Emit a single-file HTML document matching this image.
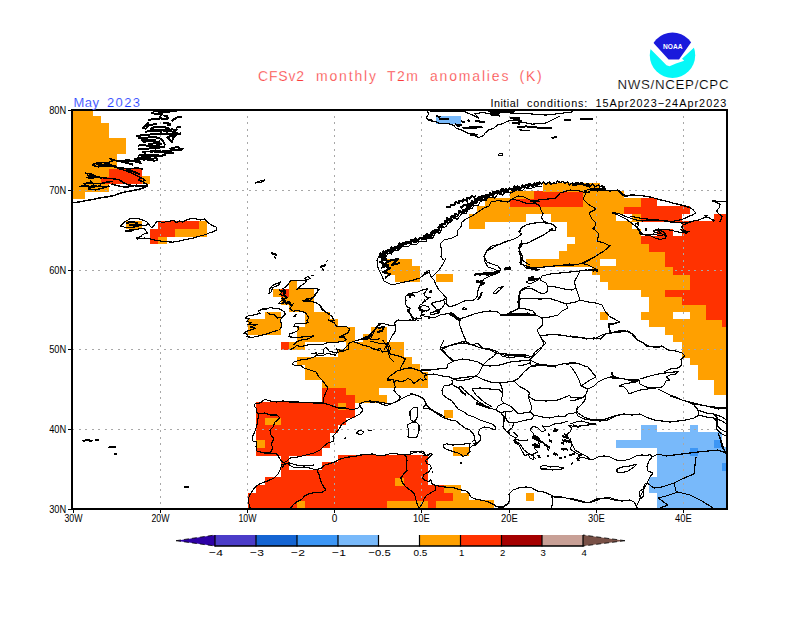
<!DOCTYPE html>
<html><head><meta charset="utf-8"><title>CFSv2 monthly T2m anomalies</title>
<style>
html,body{margin:0;padding:0;background:#fff}
body{width:800px;height:618px;overflow:hidden}
svg{display:block}
text{font-family:"Liberation Sans",sans-serif}
.thin{stroke:#fff;stroke-width:0.25px}
.thin2{stroke:#fff;stroke-width:0.15px}
.ax{font-size:11.2px;fill:#000}
.cb{font-size:9.8px;fill:#000}
</style></head><body>
<svg width="800" height="618" viewBox="0 0 800 618">
<rect width="800" height="618" fill="#fff"/>
<g shape-rendering="crispEdges">
<rect x="248" y="508" width="49" height="1" fill="#ff3200"/>
<rect x="297" y="508" width="8" height="1" fill="#ffa000"/>
<rect x="305" y="508" width="82" height="1" fill="#ff3200"/>
<rect x="387" y="508" width="41" height="1" fill="#ffa000"/>
<rect x="428" y="508" width="8" height="1" fill="#ff3200"/>
<rect x="436" y="508" width="58" height="1" fill="#ffa000"/>
<rect x="657" y="508" width="70" height="1" fill="#78b9fa"/>
<rect x="248" y="500" width="49" height="8" fill="#ff3200"/>
<rect x="297" y="500" width="8" height="8" fill="#ffa000"/>
<rect x="305" y="500" width="82" height="8" fill="#ff3200"/>
<rect x="387" y="500" width="41" height="8" fill="#ffa000"/>
<rect x="428" y="500" width="8" height="8" fill="#ff3200"/>
<rect x="436" y="500" width="58" height="8" fill="#ffa000"/>
<rect x="657" y="500" width="70" height="8" fill="#78b9fa"/>
<rect x="248" y="493" width="205" height="8" fill="#ff3200"/>
<rect x="453" y="493" width="16" height="8" fill="#ffa000"/>
<rect x="526" y="493" width="8" height="8" fill="#ffa000"/>
<rect x="657" y="493" width="70" height="8" fill="#78b9fa"/>
<rect x="256" y="485" width="188" height="8" fill="#ff3200"/>
<rect x="444" y="485" width="17" height="8" fill="#ffa000"/>
<rect x="649" y="485" width="78" height="8" fill="#78b9fa"/>
<rect x="265" y="477" width="130" height="9" fill="#ff3200"/>
<rect x="395" y="477" width="9" height="9" fill="#ffa000"/>
<rect x="404" y="477" width="24" height="9" fill="#ff3200"/>
<rect x="649" y="477" width="78" height="9" fill="#78b9fa"/>
<rect x="281" y="470" width="147" height="8" fill="#ff3200"/>
<rect x="657" y="470" width="70" height="8" fill="#78b9fa"/>
<rect x="281" y="462" width="8" height="9" fill="#ff3200"/>
<rect x="322" y="462" width="106" height="9" fill="#ff3200"/>
<rect x="657" y="462" width="65" height="9" fill="#78b9fa"/>
<rect x="722" y="462" width="5" height="9" fill="#3c96f5"/>
<rect x="281" y="455" width="8" height="8" fill="#ff3200"/>
<rect x="338" y="455" width="90" height="8" fill="#ff3200"/>
<rect x="657" y="455" width="70" height="8" fill="#78b9fa"/>
<rect x="256" y="447" width="66" height="9" fill="#ff3200"/>
<rect x="453" y="447" width="16" height="9" fill="#ffa000"/>
<rect x="657" y="447" width="33" height="9" fill="#78b9fa"/>
<rect x="690" y="447" width="8" height="9" fill="#3c96f5"/>
<rect x="698" y="447" width="29" height="9" fill="#78b9fa"/>
<rect x="256" y="440" width="9" height="8" fill="#ffa000"/>
<rect x="265" y="440" width="65" height="8" fill="#ff3200"/>
<rect x="616" y="440" width="98" height="8" fill="#78b9fa"/>
<rect x="714" y="440" width="8" height="8" fill="#3c96f5"/>
<rect x="256" y="432" width="74" height="8" fill="#ff3200"/>
<rect x="641" y="432" width="81" height="8" fill="#78b9fa"/>
<rect x="256" y="425" width="82" height="8" fill="#ff3200"/>
<rect x="641" y="425" width="16" height="8" fill="#78b9fa"/>
<rect x="690" y="425" width="8" height="8" fill="#78b9fa"/>
<rect x="256" y="417" width="9" height="8" fill="#ff3200"/>
<rect x="265" y="417" width="16" height="8" fill="#ffa000"/>
<rect x="281" y="417" width="65" height="8" fill="#ff3200"/>
<rect x="256" y="410" width="99" height="8" fill="#ff3200"/>
<rect x="444" y="410" width="9" height="8" fill="#ffa000"/>
<rect x="256" y="402" width="82" height="8" fill="#ff3200"/>
<rect x="338" y="402" width="8" height="8" fill="#ffa000"/>
<rect x="346" y="402" width="9" height="8" fill="#ff3200"/>
<rect x="322" y="395" width="33" height="8" fill="#ff3200"/>
<rect x="355" y="395" width="32" height="8" fill="#ffa000"/>
<rect x="322" y="387" width="24" height="8" fill="#ff3200"/>
<rect x="346" y="387" width="33" height="8" fill="#ffa000"/>
<rect x="714" y="387" width="13" height="8" fill="#ffa000"/>
<rect x="322" y="379" width="106" height="9" fill="#ffa000"/>
<rect x="714" y="379" width="13" height="9" fill="#ffa000"/>
<rect x="305" y="372" width="123" height="8" fill="#ffa000"/>
<rect x="698" y="372" width="29" height="8" fill="#ffa000"/>
<rect x="305" y="364" width="115" height="9" fill="#ffa000"/>
<rect x="698" y="364" width="29" height="9" fill="#ffa000"/>
<rect x="297" y="357" width="115" height="8" fill="#ffa000"/>
<rect x="690" y="357" width="37" height="8" fill="#ffa000"/>
<rect x="338" y="349" width="66" height="9" fill="#ffa000"/>
<rect x="682" y="349" width="45" height="9" fill="#ffa000"/>
<rect x="281" y="342" width="8" height="8" fill="#ff3200"/>
<rect x="289" y="342" width="16" height="8" fill="#ffa000"/>
<rect x="346" y="342" width="58" height="8" fill="#ffa000"/>
<rect x="682" y="342" width="45" height="8" fill="#ffa000"/>
<rect x="297" y="334" width="58" height="8" fill="#ffa000"/>
<rect x="363" y="334" width="24" height="8" fill="#ffa000"/>
<rect x="673" y="334" width="54" height="8" fill="#ffa000"/>
<rect x="248" y="327" width="33" height="8" fill="#ffa000"/>
<rect x="297" y="327" width="58" height="8" fill="#ffa000"/>
<rect x="371" y="327" width="16" height="8" fill="#ffa000"/>
<rect x="665" y="327" width="62" height="8" fill="#ffa000"/>
<rect x="248" y="319" width="33" height="8" fill="#ffa000"/>
<rect x="305" y="319" width="33" height="8" fill="#ffa000"/>
<rect x="649" y="319" width="73" height="8" fill="#ffa000"/>
<rect x="722" y="319" width="5" height="8" fill="#ff3200"/>
<rect x="265" y="312" width="16" height="8" fill="#ffa000"/>
<rect x="305" y="312" width="25" height="8" fill="#ffa000"/>
<rect x="600" y="312" width="8" height="8" fill="#ffa000"/>
<rect x="641" y="312" width="32" height="8" fill="#ffa000"/>
<rect x="690" y="312" width="16" height="8" fill="#ffa000"/>
<rect x="706" y="312" width="21" height="8" fill="#ff3200"/>
<rect x="289" y="304" width="25" height="8" fill="#ffa000"/>
<rect x="649" y="304" width="57" height="8" fill="#ffa000"/>
<rect x="706" y="304" width="21" height="8" fill="#ff3200"/>
<rect x="281" y="296" width="33" height="9" fill="#ffa000"/>
<rect x="649" y="296" width="33" height="9" fill="#ffa000"/>
<rect x="682" y="296" width="45" height="9" fill="#ff3200"/>
<rect x="273" y="289" width="8" height="8" fill="#ffa000"/>
<rect x="281" y="289" width="8" height="8" fill="#ff3200"/>
<rect x="289" y="289" width="25" height="8" fill="#ffa000"/>
<rect x="641" y="289" width="24" height="8" fill="#ffa000"/>
<rect x="665" y="289" width="62" height="8" fill="#ff3200"/>
<rect x="289" y="281" width="8" height="9" fill="#ffa000"/>
<rect x="608" y="281" width="82" height="9" fill="#ffa000"/>
<rect x="690" y="281" width="37" height="9" fill="#ff3200"/>
<rect x="395" y="274" width="25" height="8" fill="#ffa000"/>
<rect x="436" y="274" width="17" height="8" fill="#ffa000"/>
<rect x="600" y="274" width="90" height="8" fill="#ffa000"/>
<rect x="690" y="274" width="37" height="8" fill="#ff3200"/>
<rect x="387" y="266" width="33" height="9" fill="#ffa000"/>
<rect x="592" y="266" width="81" height="9" fill="#ffa000"/>
<rect x="673" y="266" width="54" height="9" fill="#ff3200"/>
<rect x="387" y="259" width="25" height="8" fill="#ffa000"/>
<rect x="526" y="259" width="74" height="8" fill="#ffa000"/>
<rect x="616" y="259" width="49" height="8" fill="#ffa000"/>
<rect x="665" y="259" width="62" height="8" fill="#ff3200"/>
<rect x="559" y="251" width="106" height="8" fill="#ffa000"/>
<rect x="665" y="251" width="62" height="8" fill="#ff3200"/>
<rect x="567" y="244" width="82" height="8" fill="#ffa000"/>
<rect x="649" y="244" width="78" height="8" fill="#ff3200"/>
<rect x="150" y="236" width="8" height="8" fill="#ff3200"/>
<rect x="158" y="236" width="9" height="8" fill="#ffa000"/>
<rect x="575" y="236" width="66" height="8" fill="#ffa000"/>
<rect x="641" y="236" width="86" height="8" fill="#ff3200"/>
<rect x="150" y="229" width="25" height="8" fill="#ff3200"/>
<rect x="175" y="229" width="32" height="8" fill="#ffa000"/>
<rect x="567" y="229" width="74" height="8" fill="#ffa000"/>
<rect x="657" y="229" width="16" height="8" fill="#ff3200"/>
<rect x="682" y="229" width="45" height="8" fill="#ff3200"/>
<rect x="126" y="221" width="16" height="8" fill="#ffa000"/>
<rect x="158" y="221" width="41" height="8" fill="#ff3200"/>
<rect x="199" y="221" width="8" height="8" fill="#ffa000"/>
<rect x="469" y="221" width="16" height="8" fill="#ffa000"/>
<rect x="567" y="221" width="65" height="8" fill="#ffa000"/>
<rect x="682" y="221" width="45" height="8" fill="#ff3200"/>
<rect x="469" y="214" width="57" height="8" fill="#ffa000"/>
<rect x="551" y="214" width="65" height="8" fill="#ffa000"/>
<rect x="632" y="214" width="9" height="8" fill="#ffa000"/>
<rect x="641" y="214" width="41" height="8" fill="#ff3200"/>
<rect x="714" y="214" width="13" height="8" fill="#ff3200"/>
<rect x="477" y="206" width="147" height="8" fill="#ffa000"/>
<rect x="624" y="206" width="66" height="8" fill="#ff3200"/>
<rect x="485" y="198" width="25" height="9" fill="#ffa000"/>
<rect x="510" y="198" width="73" height="9" fill="#ff3200"/>
<rect x="583" y="198" width="58" height="9" fill="#ffa000"/>
<rect x="641" y="198" width="16" height="9" fill="#ff3200"/>
<rect x="72" y="191" width="13" height="8" fill="#ffa000"/>
<rect x="510" y="191" width="24" height="8" fill="#ffa000"/>
<rect x="534" y="191" width="49" height="8" fill="#ff3200"/>
<rect x="583" y="191" width="41" height="8" fill="#ffa000"/>
<rect x="72" y="183" width="37" height="9" fill="#ffa000"/>
<rect x="543" y="183" width="57" height="9" fill="#ffa000"/>
<rect x="72" y="176" width="29" height="8" fill="#ffa000"/>
<rect x="101" y="176" width="41" height="8" fill="#ff3200"/>
<rect x="142" y="176" width="8" height="8" fill="#ffa000"/>
<rect x="72" y="168" width="37" height="9" fill="#ffa000"/>
<rect x="109" y="168" width="33" height="9" fill="#ff3200"/>
<rect x="72" y="161" width="45" height="8" fill="#ffa000"/>
<rect x="72" y="153" width="45" height="8" fill="#ffa000"/>
<rect x="72" y="146" width="54" height="8" fill="#ffa000"/>
<rect x="72" y="138" width="54" height="8" fill="#ffa000"/>
<rect x="72" y="131" width="37" height="8" fill="#ffa000"/>
<rect x="72" y="123" width="37" height="8" fill="#ffa000"/>
<rect x="72" y="116" width="29" height="8" fill="#ffa000"/>
<rect x="436" y="116" width="25" height="8" fill="#78b9fa"/>
<rect x="72" y="110" width="21" height="6" fill="#ffa000"/>
</g>
<g stroke="#a8a8a8" stroke-width="1" stroke-dasharray="2 4.55" shape-rendering="crispEdges">
<line x1="160.5" y1="110" x2="160.5" y2="509" stroke-dashoffset="0.8"/>
<line x1="247.5" y1="110" x2="247.5" y2="509" stroke-dashoffset="0.8"/>
<line x1="334.5" y1="110" x2="334.5" y2="509" stroke-dashoffset="0.8"/>
<line x1="421.5" y1="110" x2="421.5" y2="509" stroke-dashoffset="0.8"/>
<line x1="509.5" y1="110" x2="509.5" y2="509" stroke-dashoffset="0.8"/>
<line x1="596.5" y1="110" x2="596.5" y2="509" stroke-dashoffset="0.8"/>
<line x1="683.5" y1="110" x2="683.5" y2="509" stroke-dashoffset="0.8"/>
<line x1="72" y1="429.5" x2="727" y2="429.5"/>
<line x1="72" y1="349.5" x2="727" y2="349.5"/>
<line x1="72" y1="270.5" x2="727" y2="270.5"/>
<line x1="72" y1="190.5" x2="727" y2="190.5"/>
</g>
<clipPath id="pc"><rect x="72" y="110" width="655" height="399"/></clipPath>
<g clip-path="url(#pc)" fill="none" stroke="#000" stroke-width="1.15" stroke-linejoin="round" shape-rendering="crispEdges">
<polyline stroke-width="2" points="153,111.3 163.5,111.7 177.5,111.3"/>
<polyline stroke-width="2" points="163.5,111.9 160.9,115 160,117.6 163.5,119.4 167.9,118.5 167,116.3 163.5,115.4"/>
<polyline stroke-width="2" points="147.8,120.2 153.9,118.9 160,118.9"/>
<polyline stroke-width="2" points="148.6,122 146.9,124.6 142.5,128.1 146,128.6 148.6,125.5 151.2,124.6 157.4,124.2"/>
<polyline stroke-width="2" points="171.4,121.1 176.6,117.6 181.9,116.8"/>
<polyline stroke-width="2" points="162.6,122.4 167.9,123.3 170.5,124.6 167,125.5"/>
<polyline stroke-width="2" points="150.4,129 154.8,126.8 164.4,126.8 168.8,128.6 163.5,129.9 153,129.9 150.4,129"/>
<polyline stroke-width="2" points="175.8,128.1 179.2,126.5 181.4,127.7"/>
<polyline stroke-width="2" points="163.5,131.2 174,131.6 176.6,132.9 174.9,134.2 168.8,134.2 166.1,132.9"/>
<polyline stroke-width="2" points="136.4,136.4 144.2,134.7 160,134.2 174,134.7"/>
<polyline stroke-width="2" points="138.1,138.2 146.9,137.8 151.2,136.9 159.1,137.8 162.6,140.4 165.2,145.6"/>
<polyline stroke-width="2" points="167,136.9 172.2,142.1 173.1,136 167,136.9"/>
<polyline stroke-width="2" points="142.5,141.7 151.2,141.2 159.1,141.7 160,140.4"/>
<polyline stroke-width="2" points="138.1,145.6 142.5,144.8 149.5,146.1 160,146.5 165.2,146.5"/>
<polyline stroke-width="2" points="138.1,148.7 145.1,149.1 153.9,147.8 160,148.2"/>
<polyline stroke-width="2" points="169.6,149.1 174,147.8 177.5,146.9 181,149.1 183.6,148.2"/>
<polyline stroke-width="2" points="170.5,150 175.8,150 181.9,150"/>
<polyline stroke-width="2" points="150.4,152.2 155.6,150.4 161.8,151.8 167,153.5 174,153.1"/>
<polyline stroke-width="2" points="138.1,155.7 144.2,154.4 153.9,155.2 161.8,155.7 166.1,154.4"/>
<polyline stroke-width="2" points="141.6,157.9 146,159.2 156.5,158.3 156.5,161.4"/>
<polyline stroke-width="2" points="125,159.6 130.2,160.5 140.8,161.6"/>
<polyline stroke-width="2" points="144.2,157 144.2,160.5"/>
<polyline stroke-width="2" points="151.2,113.2 158.2,114.1 161.8,113.2"/>
<polyline stroke-width="2" points="145.1,131.6 153.9,131.2 161.8,131.6"/>
<polyline stroke-width="2" points="140.8,139.5 147.8,139.9 155.6,139.5"/>
<polyline stroke-width="2" points="167,129.9 172.2,129.4 177.5,130.3"/>
<polyline stroke-width="2" points="147.8,143.9 154.8,143.4 161.8,144.3"/>
<polyline stroke-width="2" points="161.8,150.9 168.8,151.3 174,150"/>
<polyline stroke-width="2" points="174,136.9 177.5,134.2 181,133.4"/>
<polyline stroke-width="2" points="133.8,159.6 142.5,157 151.2,156.6"/>
<polyline stroke-width="1.5" points="72.2,202.9 79,202 85.8,200.6 92.5,199.5 100.4,197.8 108.2,196.7 113.9,195.6 119.5,193.3 126.2,191.8 133,190.5 140.9,188.8 147.6,186 146.5,183.8 143.1,182.6"/>
<polyline stroke-width="1.5" points="92.5,164.6 99.2,162.4 107.1,162.9 112.8,160.7 109.4,158.4 117.2,161.2 124,160.7 133,161.2 142,163.5"/>
<polyline stroke-width="1.5" points="92.5,165.2 98.1,166.9 107.1,165.8 115,166.9 120.6,168 128.5,168.6 137.5,168 143.1,169.1"/>
<polyline stroke-width="1.5" points="117.2,168 124,170.2 130.8,172.5 137.5,175.9 142,178.1 145.4,180.4 142,181.5 138.6,179.8 140.9,177.6"/>
<polyline stroke-width="1.5" points="84.6,173.1 91.4,174.2 98.1,177 104.9,178.1 112.8,178.7 119.5,179.8 122.9,182.6 128.5,184.9 137.5,186 146.5,186"/>
<polyline stroke-width="1.5" points="85.8,177.6 92.5,178.1 97,177"/>
<polyline stroke-width="1.5" points="90.2,180.4 93.6,183.8 91.4,182.6 90.2,180.4"/>
<polyline stroke-width="1.5" points="85.8,182.6 92.5,183.2 100.4,183.8 107.1,182.1 112.8,181.5"/>
<polyline stroke-width="1.5" points="79,186.6 85.8,185.4 92.5,187.1 99.2,186 106,187.1 109.4,186"/>
<polyline stroke-width="1.5" points="88,188.8 95.9,189.9 103.8,187.7"/>
<polyline stroke-width="1.5" points="111.6,183.8 118.4,186 125.1,187.1 130.8,186.6 137.5,184.9"/>
<polyline stroke-width="1.5" points="139.8,155.6 146.5,155.1 153.2,156.8 160,155.6"/>
<polyline stroke-width="1.5" points="137.5,159 146.5,159.6 155.5,161.2"/>
<polyline stroke-width="1.5" points="142,152.2 151,151.1 160,152.8"/>
<polyline stroke-width="2" points="95.9,164.1 103.8,164.6 110.5,163.5"/>
<polyline stroke-width="2" points="119.5,161.2 126.2,162.9 133,164.6"/>
<polyline stroke-width="2" points="86.9,175.3 94.8,176.4 102.6,178.1"/>
<polyline stroke-width="2" points="81.2,186 89.1,186.6 97,186.2"/>
<polyline stroke-width="2" points="98.1,165.2 107.1,164.4 117.2,166.9"/>
<polyline stroke-width="2" points="126.2,169.1 133,171.4 139.8,174.2"/>
<polyline stroke-width="2" points="83.5,183.8 91.4,182.8"/>
<polyline points="120.5,226.3 125.3,221.5 130.1,218.8 137,218.1 142.5,220.1 146.6,221.5 148.7,224.2 145.2,225.6 139.8,225.6 134.2,227 127.4,227.7 120.5,226.3"/>
<polyline stroke-width="2" points="126,222.9 132.9,221.8 138.4,223.6"/>
<polyline stroke-width="2" points="128.8,225.3 137,224.5 142.5,225.6"/>
<polyline points="125.3,230.4 132.9,229.8 142.5,228.4 144.6,229.1"/>
<polyline points="124.6,231.1 128.8,231.8 134.2,230.4"/>
<polyline points="148.7,224.2 151.4,227.7 154.2,225.6 156.2,222.2 159,221.2 163.1,222.9 165.9,221.5 170,221.2 174.1,220.1 176.2,222.9 179.6,220.8 182.4,222.2 186.5,220.1 189.9,218.8 194.1,218.1 197.5,219.4 200.9,220.1 204.4,218.8 206.4,220.8 208.5,222.9 211.2,224.9 216.1,227 216.8,229.8 213.3,231.8 209.9,232.5 205.8,234.6 200.2,235.9 193.4,238 186.5,239.4 179.6,241 172.8,242.1 165.9,241.8 160.4,241 154.9,240.1 149.4,238.7 144.6,238 137,239.1 136.3,237.7 140.4,236.9 142.5,234.6 145.9,233.2 148,233.9 144.6,229.1"/>
<polyline points="268.9,293.7 270,288.6 272.8,285.2 278.5,282.9 280.2,281.8 279.6,284.6 276.2,286.3 272.8,287.5 271.1,292 268.9,293.7"/>
<polyline points="288.7,283.5 290.4,280.7 296.6,280.9 303.4,280.7 306.8,281.2 304.6,283.5 300,286.3 296.6,289.7 298.9,288.4 304.6,288.4 312.5,288.4 319.3,289.2 318.2,290.9 315.3,294.3 312.5,297.7 308,299.4 303.4,301.6 308,301.1 312.5,301.6 317,303.3 320.4,305.6 322.7,309 325,311.8 330,314.1"/>
<polyline points="304.6,277.8 308,276.7 310.2,278.4 306.8,280.1 304.6,277.8"/>
<polyline points="311.4,276.1 313.6,275"/>
<polyline points="288.7,283.5 286.4,286.3 283,288.6 285.3,290.9 281.9,292 279.6,294.8 284.2,295.4 287.6,297.7 283,299.4 278.5,303.3 280.8,303.9 285.3,301.6 286.4,304.4 289.8,302.2 291,305.6 293.2,303.9 289.8,309 293.2,311.2 296.6,310.7 301.2,311.2 304.6,312.4 306.8,314.6 309.1,318 306.8,320.3 308,322.6 304.6,323.7 300,323.7 295.5,323.1 293.8,326.5 298.9,327.1 297.8,330.5 293.2,332.8 289.8,333.9 288.7,336.7 293.2,337.3 298.9,337.3 305.7,336.7 310.2,336.7 313.6,335.6"/>
<polyline stroke-width="2" points="279.1,290.3 285.3,292 283.6,294.8 286.4,297.1"/>
<polyline stroke-width="2" points="281.9,297.7 284.7,300.5 283,303.3"/>
<polyline stroke-width="2" points="285.3,303.9 288.7,301.6 289.8,305"/>
<polyline points="313.6,336.2 308,339 301.2,340.1 296.6,341.8 293.2,345"/>
<polyline points="248.5,315.8 245.1,318 249.1,318.6 246.8,321.4 251.3,322.6 247.9,324.8 253.6,324.8 257,324.3 250.2,327.1 255.9,328.2 249.1,330.5 245.7,331.6 244,333.3 247.9,334.5 246.8,336.7 251.3,337.3 253.6,337.1 260.4,335.6 267.2,333.9 272.8,331.6 278.5,330.5 280.8,328.2 281.9,324.8 280.2,320.3 282.5,316.9 285.3,314.1 284.2,311.8 279.6,309 274,308.4 270,307.3 267.2,309 262.7,309 258.1,311.2 260.4,313.5 257,314.1 252.5,315.2 248.5,315.8"/>
<polyline points="267.2,312.4 270.6,314.6 274,314.6 277.4,318 280.8,317.5 282.5,316.9"/>
<polyline points="293.2,316.9 296.1,314.6 295.5,316.3 293.2,316.9"/>
<polyline points="318.3,290 314.4,296.8 311.5,299.1 307,298.5 303.6,301.3 310.4,300.8 315.5,302.5 319.4,304.7 321.7,309.3 327.4,313.2 331.9,316.1 334.2,320.6 328.5,320 334.2,322.8 336.4,326.2 339.8,326.8 346.6,326.8 349.5,329.1 348.3,332.5 344.4,334.7 339.8,337 344.4,337.6 346.6,339.8 343.2,341.5 337.6,342.1 333,342.3 327.4,342.7 322.8,344.4 316.1,344.9 309.3,344.4 305.9,345.5 301.3,346.6 296.8,345.5 292.3,348.9 290,349.5"/>
<polyline stroke-width="2" points="302.5,301.3 309.3,300.2"/>
<polyline stroke-width="2" points="338.7,337.6 344.4,335.9"/>
<polyline points="311.5,354 316.1,352.9 318.3,355.7 324,355.1 327.4,353.4 335.3,355.1 337.6,351.2 336.4,348.9 339.8,350 343.2,351.2 348.9,348.9 348.9,343.2 353.4,341.5 359.1,339.8 364.8,338.1 369.3,335.3 372.7,331.9 376.1,327.4 379.5,322.8"/>
<polyline points="353.4,341.5 358,343.2 363.6,345.5 369.3,346.6 373.8,348.9 380,350.6"/>
<polyline points="359.1,339.8 363.6,339.8 369.3,338.7 375,339.8 380,338.7"/>
<polyline stroke-width="2.5" points="363.6,338.1 369.3,336.4 372.1,334.2"/>
<polyline points="294,362 292,364 296,366 300,365 304,368 310,370 316,372 319,377 322,380 325,384 328,388 326,392 324,397 323,403"/>
<polyline points="294,362 300,360 308,359 314,357 318,354 324,353 323,350 326,347 329,351 336,353 342,351 346,347 348,345"/>
<polyline points="323,403 314,403 306,402.6 298,402 290,402 283,401 276,402 270,401 265,399.4 260,403 255,404 254,406 257,409 256,412 259,414 258,419 257,425 255,431 252,438 253,441 257,442 256,446 257,451 264,453 270,453 277,454 280,459 283,463 287,461 290,458 298,457 306,455 314,453 320,450 324,446 328,443 334,441 333,436 336,433 339,429 342,424 348,420 354,417 360,414 363,410 360,406 359,404 364,402 370,401 378,402 384,403 390,404"/>
<polyline points="323,403 330,405 338,408 346,408 352,410 358,408 361,405"/>
<polyline points="259,414 265,413 270,415 277,415 280,418 275,422 273,427 270,430 271,435 274,439 271,444 273,448 270,453"/>
<polyline points="356,433 360,430 364,432 361,435 356,433"/>
<polyline stroke-width="2" points="344.4,438 346.4,438.6"/>
<polyline points="368,431 372,430"/>
<polyline points="282,468 284,465 288,463 290,463 296,465 304,466 314,465"/>
<polyline points="287.3,463.3 281.7,464.6 280.4,469 277.9,474.1 274.1,477.9 269,480.4 264,482.3 258.9,484.2 255.1,487.3 252.6,490.5 250.1,494.3 248.2,498.7 248.8,503.1 250.1,508.2"/>
<polyline points="287.3,463.3 289.9,465.2 293,467.1 299.3,467.8 305.6,467.1 310.7,468.4 315.7,469.7 320.8,468.4 324.6,465.2 328.3,464 334.7,462.1 339.7,458.9"/>
<polyline points="317,470.3 318.9,474.1 320.1,479.1 322,484.2 325.8,489.9 322,492.4 315.7,492.4 309.4,493.6 304.4,496.2 301.8,499.3 296.8,501.8 293,505 290.5,508.2"/>
<polyline points="330,463.3 333.8,462.1 337.6,460.2 342.6,458.3 348.9,457 355.2,456.4 360.3,455.1 366.6,454.5 372.9,453.9 378,455.8 383,455.8 389.3,453.9 394.4,453.3 399.4,454.5 405.7,455.1 410.8,453.9 415.8,452 422.1,451.4 424.7,452.6 424,455.8 428.4,455.1 430,453.9"/>
<polyline points="405.7,455.1 407,460.2 406.4,465.2 407,470.3 403.2,474.7 400.7,477.9 402.6,482.9 405.7,486.7 410.8,490.5 414.6,494.3 415.8,499.3 417.7,505.6 419.6,508.2"/>
<polyline points="410,452 415,451.4 420.1,452 423.9,453.9 426.4,455.8 430.2,453.3 432.1,454.5 428.9,457.7 425.8,460.2 426.4,463.3 430.2,465.2 431.5,467.8 428.9,471.6 423.9,474.7 422.6,477.9 425.1,480.4 428.9,481.7 430.8,479.8 431.5,483.5 435.2,485.4 441.6,486.7 447.9,487.3 454.2,488 460.5,489.9 465.5,490.5 468.7,493 470.6,496.8 474.4,498.7 480.7,500 488.3,501.8 493.3,504.4 497.1,506.9 503.4,506.3 508.4,503.1 510,499.3"/>
<polyline points="435.2,485.4 435.9,489.9 431.5,492.4 426.4,495.5 423.9,499.3 422.6,503.1 420.1,506.9 418.8,508.2"/>
<polyline points="443.4,445 446.6,443.8 452.9,445 460.5,444.4 466.8,443.8 470,443.2 469.3,446.3 470,451.4 466.8,455.1 463,456.4 459.2,453.3 454.2,452 449.1,450.1 445.3,448.8 443.4,446.9 443.4,445"/>
<polyline stroke-width="2.5" points="459.5,462.8 461.5,462.8"/>
<polyline points="471.8,441.9 474.4,440"/>
<polyline points="473.1,443.8 478.2,442.5 479.4,440"/>
<polyline points="432.1,472.2 433.3,471.6"/>
<polyline points="570,401 576,400 584,397 585,395"/>
<polyline points="578,406 576,410 578,413 584,417 592,420 600,421 608,420 616,416 624,414 632,415 640,414 646,417 654,420 662,421 670,422 678,421 686,420 694,418 699,415 698,410 694,405 688,402 682,400 676,397 670,395"/>
<polyline points="570,424 576,422 582,421 588,423 596,424 588,425 580,426 574,427 570,425"/>
<polyline stroke-width="2" points="573,425.4 579,427"/>
<polyline points="570,438 572,445 570,449 576,453 580,455 576,459 582,457 588,459 592,460 598,457 604,456 610,457 616,460 622,461 630,459 636,456 642,455 647,456 650,454 652,457 649,461 647,466 648,471 653,473 650,477 647,483 644,489 641,495 639,501 636,507"/>
<polyline points="570,498 578,500 588,503 596,499 606,498 614,500 622,501 630,500 634,502 637,507"/>
<polyline points="634,502 638,509.4"/>
<polyline points="640,491 643,489 644,495 641,499 639,495 640,491"/>
<polyline points="643,489 645,484 647,483"/>
<polyline points="617,469 622,467 630,466 637,464 634,467 628,471 621,473 617,472 617,469"/>
<polyline points="652,457 658,454 666,456 674,455 682,454 690,453 698,452 708,451 718,450 726,453"/>
<polyline points="696,457 695,465 694,474 682,479 674,483"/>
<polyline points="647,483 654,488 662,487 674,483 676,491 678,492"/>
<polyline points="678,492 666,496 658,498 668,505 660,508"/>
<polyline points="678,492 690,495 702,501 713,508"/>
<polyline points="718,433 720,439 722,447 726,453 728,455"/>
<polyline points="698,410 706,413 714,414 718,419 716,425 722,430 726,432"/>
<polyline points="670,396 682,400 694,404 706,406 718,409 728,408"/>
<polyline points="714,414 722,417 728,421"/>
<polyline points="577,460 580,458.6"/>
<polyline points="410,393 418,396 424,399 426,404 423,408 430,409 436,413 442,417 450,420 456,421 461,425 465,428 470,430 474,435 475,440 476,444 472,446 470,448"/>
<polyline points="472,446 476,445 480,441 481,437 478,433 480,429 484,427 490,428 495,430 496,427 492,424 486,422 480,420 474,417 468,415 464,412 458,409 455,405 452,401 447,398 443,395 442,390 444,386 450,385 453,383 452,380"/>
<polyline points="426,375 434,374 442,376 450,377 453,379"/>
<polyline points="421,370 430,370 438,369 447,368 448,364 454,361 462,359 470,360 478,362 483,365 481,369 479,373 476,376 468,377 460,378 453,379"/>
<polyline points="444,340 442,344 440,348 445,354 452,359 454,361"/>
<polyline points="440,348 448,346 458,343 465,341 470,344 478,347 485,349 490,350 496,353"/>
<polyline points="483,365 488,360 494,356 496,353 506,354 516,355 526,355 532,357"/>
<polyline points="483,365 490,366 500,365 510,362 520,361 530,360 532,357 535,352 542,347 546,343 543,340"/>
<polyline points="530,360 538,364 530,367 524,372 519,378 514,381"/>
<polyline points="476,376 482,379 490,382 500,383 508,382 514,381"/>
<polyline points="538,364 546,365 554,366 562,364 570,363"/>
<polyline points="514,381 519,386 526,390 530,393 528,396 534,400 546,401 558,400 568,396 570,395"/>
<polyline points="453,379 460,381 470,379 476,376"/>
<polyline points="452,380 453,385 458,388 461,386 464,390 470,395 476,400 484,405 490,408 496,410 501,413 504,417 504,422 503,427 506,431 510,434"/>
<polyline stroke-width="2" points="458,387 462,392 466,395"/>
<polyline stroke-width="2.5" points="476,403 484,406 490,408"/>
<polyline points="472,389 480,388 490,389 500,390 503,394 501,400 504,403 498,406 496,410"/>
<polyline points="472,389 476,395 484,402 492,407"/>
<polyline points="500,383 502,388 503,394"/>
<polyline points="504,403 510,406 514,409 511,412 506,411 501,413"/>
<polyline points="528,396 530,402 532,408 530,412 534,415"/>
<polyline points="514,409 518,414 530,412"/>
<polyline points="514,423 522,421 532,419 534,415"/>
<polyline points="506,411 505,417 508,422 514,423 512,428 508,431"/>
<polyline points="534,415 542,417 550,418 558,416 564,417 568,414 570,413"/>
<polyline points="508,431 510,435 516,438 514,442 519,445 522,451 525,456 528,454 530,458 534,460 533,454 538,452 534,448 540,446 538,441 532,438 534,434 530,430 533,426 538,428 542,432 546,430 542,426 548,427 554,424 562,423 568,421"/>
<polyline stroke-width="2" points="507,432 510,433.6"/>
<polyline stroke-width="2" points="514,440 517,444"/>
<polyline stroke-width="2.5" points="533,437 538,439 541,442"/>
<polyline stroke-width="2.5" points="534,444 540,447"/>
<polyline stroke-width="2" points="548,434 550,435.6"/>
<polyline stroke-width="2" points="553,430.4 557,431.6"/>
<polyline stroke-width="2" points="549,440 552,442"/>
<polyline stroke-width="2" points="547,449 549,450"/>
<polyline stroke-width="2" points="553,453.6 556,455"/>
<polyline stroke-width="2" points="561,449 564,449.6"/>
<polyline stroke-width="2" points="562,440 567,442"/>
<polyline stroke-width="2" points="564,434 568,436"/>
<polyline stroke-width="2" points="559,457.6 562,458.4"/>
<polyline stroke-width="2" points="547,456 549,456.6"/>
<polyline stroke-width="2" points="538,455 540,458"/>
<polyline points="255,183 260,181 265,180 262,182 255,183"/>
<polyline stroke-width="2" points="271,253 277,255"/>
<polyline points="274,256 276,259"/>
<polyline stroke-width="2" points="320,267 326,265"/>
<polyline points="322,268 324,271"/>
<polyline points="326,262 328,260"/>
<polyline points="410,241 400,246 390,250 380,254 377,260 378,268 382,276 384,281 392,285 400,283 410,281 420,278 426,273 429,270 430,274 431.4,277.6"/>
<polyline stroke-width="2" points="406,243 394,248 384,252"/>
<polyline stroke-width="2" points="379,257 386,259 380,262 388,265 381,268"/>
<polyline stroke-width="2" points="382,272 390,274 385,278"/>
<polyline stroke-width="2" points="392,249 402,247"/>
<polyline stroke-width="2.5" points="424,274 428.4,271.6"/>
<polyline points="446,258 443,264 439,270 434,275 431.4,277.6 434,280 436,285 439,290 443,294 447,299 446,304 450,307 458,304 464,301 474,300 477,297 478,290 481,283 484,279 490,276 498,273 501,270 498,266 492,264 487,262 484,257 487,251 494,247 502,243 510,240"/>
<polyline points="493,293 498,288 503,286.4 500,290 495,294 493,293"/>
<polyline stroke-width="2" points="478,300 480.4,296 482,292"/>
<polyline stroke-width="2" points="475,274.4 482,273.6 490,273"/>
<polyline stroke-width="2" points="486,275.6 492,273.6 498,272"/>
<polyline stroke-width="2.5" points="506,268.4 510,267.6"/>
<polyline stroke-width="2" points="478,281 481,282.4"/>
<polyline points="408,310 410,314 413,317 412,319 416,321 410,320 404,321 398,320 394,323 396,326 388,325 382,323 378,326 375,330 372,336 370,340"/>
<polyline stroke-width="2" points="378,328 384,327 382,331 377,332"/>
<polyline points="412,319 416,318 422,319 420,315 428,317 434,318 440,315 446,314 450,313 456,317 459,319 466,317 474,314 482,312 490,311 498,312 501,315 508,314 514,311 519,308 520,302 519,296 520,291 524,288 530,286"/>
<polyline stroke-width="3" points="450,314 454,316 458,319"/>
<polyline points="396,326 395,332 392,336 389,342 386,346 384,350"/>
<polyline points="370,341 374,342 382,344 388,343"/>
<polyline points="386,346 388,352 390,358 394,362"/>
<polyline points="459,319 460,326 463,334 466,341 464,343"/>
<polyline points="464,343 456,344 449,346 442,349 446,354 450,359 454,362"/>
<polyline points="464,343 472,345 478,343 482,348 490,349 498,352 502,356 510,358 520,356 530,358"/>
<polyline points="508,314 518,314 528,313 530,314"/>
<polyline points="519,252 520,246 522,240"/>
<polyline points="519,252 522,260 528,264 530,265"/>
<polyline stroke-width="2" points="379.1,253.9 382.7,255 383.4,251.3 386.5,253.3 387.6,250.4 391,251.3 391.4,247.1 394.8,249.8 395,246.6 398.6,246.6 399.4,243.1 402.7,245.4 403,242.4 406.5,244.2 407.3,241.7 410.7,243.6 411.3,239.6 414.9,242.4 415.2,238.4 418.3,240.7 419.5,237.9 423,239.4 424,235.9 427,237.1 427.2,234.1 430.4,235.7 431.2,232.4 434.3,233.3 435.4,229.6 438.7,230.2 438.4,226.9 442.7,227.1 441.6,223.9 444.5,223.8 444.9,220.7 447.4,221.7 447.1,218.3 450.8,218.9 451.7,215.6 455.2,217.5 455.3,213.7 458.2,214.9 459.4,211.4 462.3,212.2 463,209.5 466.7,210.3 466.8,206.4 469.7,207.8 469.4,203.9 473.3,204.9 473.7,201.6 476.8,202.1 477.7,198.4 481.2,200.6 481.8,196.2 484.9,198 485.7,194.9 488.8,196.7 489.9,192.8 492,194.8 493.2,191.5 496.8,193.3 496.9,190.6 499.7,192.5 501.7,189.2 504,192.1 506.2,188.9 507.8,191.1 509.5,188.2 512.5,190.3 514.1,186.4 515.6,188.6 517.6,186.1 520.8,188.6 522.1,185.4 524.6,187.1 526,184.8 528.7,186.2 529.4,183.8 532.4,186.5 533.6,183.7 536.2,186.4 537.7,183.2 540,184"/>
<polyline stroke-width="1.5" points="378.6,254.4 384.1,257 386.1,250.5 390.9,252.6 393.4,248.1 397.7,248.9 400,243.2 403.1,246.7 405.7,241.3 410.6,243.9 413.2,239.4 416.3,242.1 419.8,237.3 424.8,239.6 425.8,234.9 431.6,237.2 432.8,230.8 438.6,231.2 439.4,225 445.5,224.4 446.4,220.8 450.5,220 453,215.8 457.7,216.6 458.9,210.9 464.7,212.2 467,206 470.5,207.5 472.4,202.6 476.4,203.7 479,197.4 485.3,200.1 488,195 493.3,195.9 495,191.5 500.8,193.6 502.7,188.7 507.3,191.8 509.4,188.9 513,191.1 515.8,186.3 519.5,189.1 524.1,185.2 527.8,188.8 529.7,183.5 532.5,186.7 537.2,182.6 540,184"/>
<polyline points="381.5,255.9 385.6,257.6 388,253.1 391.3,254 394.2,250.1 397.7,250.7 402.2,246 408.2,246.7 411.2,244.1 416.3,244.7 420,241.1 426.4,241.1 427,238 432.6,238.1 435.8,232.4 439.7,233.4 442.2,227.7 445.9,226.8 448.9,222.1 451.3,221.9 453.6,218 457.3,219.4 461.7,213.7 466.7,213.5 467.4,209 471.9,208.9 474.3,205.1 478.4,205.4 480.6,200.6 486.3,200.5 487.9,197.1 494.8,198.1 498.1,193.7 502.6,195.1 505.6,192 510.4,193 516.9,189.8 522.6,190.3 525.6,187.4 530.3,188.6 537.2,186.2 541.6,186.8"/>
<polyline stroke-width="2" points="446.2,206.7 450,207 451.1,204.5 454,205.6 455.8,201.9 458.8,203.5 459.3,200.7 462.5,201.7 463.6,199.2 467,200.7 467.3,197.9 469.7,198.9 471.8,195.8 474,197.3 476,196"/>
<polyline stroke-width="2" points="459.9,207.2 461.7,207.8 464.1,204.8 466.9,205.5 467.8,203.4 470.8,204.1 471.8,201.4 474.3,201.7 475,199.2 478.8,199.8 479.2,197.2 482.6,196.8 484,195"/>
<polyline points="489,206 484,208 478,212 472,216 466,219 462,222 461,227 457,231 458,235 452,238 444,240 440,244 442,251 441,257 443.6,260"/>
<polyline points="489,206 491,202 498,200.6 508,202 512,199 518,196 524,197 530,200 538,202 540,201"/>
<polyline points="512,199 520,201 528,204 534,203 540,206"/>
<polyline points="500,244 492,246 487,250 484,256 485,262 488,267 494,269 500,272 492,274 480,275 474,274.6"/>
<polyline stroke-width="2" points="474,274.6 484,274 492,273 500,271"/>
<polyline points="484,280 480,281 476,283"/>
<polyline stroke-width="2.5" points="476,281 484,283 480,285"/>
<polyline points="523,265 526,268 534,269 540,270"/>
<polyline stroke-width="2.5" points="504,269 510,268"/>
<polyline stroke-width="2.5" points="528,280 538,279"/>
<polyline stroke-width="2" points="380,253 386,256 382,259 389,261 383,265 390,268 384,272"/>
<polyline stroke-width="2" points="388,261 398,259 392,265 400,263"/>
<polyline points="534,201.8 539.6,205.8 540.8,209.7 543,213.7 541.3,217.7 544.2,221.6 548.7,223.3 543,222.8 537.4,222.8 531.7,223.3 526.1,225 521.5,227.8 518.7,231.8 521.5,234.1 518.1,236.9 513.6,239.2 506.8,241.4 500,244.3"/>
<polyline points="548.7,223.3 553.2,224.4 556.1,227.3 555.5,230.7 551,230.1 547.6,232.4 543,235.2 537.4,238 532.8,240.3 528.9,242.6 524.4,243.7 519.8,244.3 518.7,248.2 521,252.8 522.7,257.3 521.5,261.8 521,265"/>
<polyline stroke-width="2.5" points="548.7,230.1 553.2,229.5"/>
<polyline stroke-width="2" points="518.7,231.8 521,230.7"/>
<polyline stroke-width="1.5" points="530,184.3 533.3,185.7 534.5,183 536.9,184.3 539.1,182 541.5,183.9 543.8,182.1 546.1,184.1 549.1,182.1 551.3,184.3 553.7,182.8 556.2,183.5 557.1,181 560,182.5 563.3,181.4 564.6,183.5 567.6,182.2 569.4,185 572.5,182.9 574.4,184.7 576.7,182.3 579.4,183.4 582.1,182.9 584.3,185 588,183.8 590.1,185.9 592.8,184.1 594.9,186.9 598.4,184.9 599.6,186.8 602.1,185.8 605,187"/>
<polyline points="605,187 600,189 590,189 584,191 590,193"/>
<polyline stroke-width="2" points="572,185 582,184 590,187"/>
<polyline stroke-width="2" points="590,190 598,190.6 606,188.6"/>
<polyline points="598,190 610,191 618,190 624,195 628,196 634,195 644,196 654,198 666,201 676,204 684,206 690,208"/>
<polyline stroke-width="2" points="618,190.6 623,195 628,196.6"/>
<polyline points="612,212.6 620,214 628,217.4 636,220 642,221 650,220 658,220 670,222 682,223 690,222"/>
<polyline points="612,212.6 618,215 626,219 634,225 639,229 640,234 648,235 654,234 660,236 666,234 662,231 655,230 658,229 670,230 678,232 686,233 690,231"/>
<polyline stroke-width="2" points="612,212.6 618,214"/>
<polyline points="637.2,223 638.8,223 638.8,224.6 637.2,224.6 637.2,223"/>
<polyline points="645.2,228.6 646.8,228.6 646.8,230.2 645.2,230.2 645.2,228.6"/>
<polyline points="530,202 538,200 548,199 556,198 560,193 570,190 580,191 586,193 590,191 596,190 599,189"/>
<polyline points="586,193 583,199 588,204 596,209 589,213 592,219 596,223 594,229 599,234 597,241 604,243 610,246 604,251 596,256 588,260 582,263 576,265"/>
<polyline stroke-width="2.5" points="593,228 595,230"/>
<polyline points="522,245 519,249 521,257 520,263 526,266 534,268 544,267 554,266 564,265 574,265 582,263.4 588,265 594,268 598,270 594,271 586,270 580,271 570,272 560,273 550,274 542,276 540,280 546,283 548,287 547,292 543,294 538,292 533,289 526,288 521,291 519,296 518,302 519,307 516,310 510,312 508,314 504,315 500,315.4"/>
<polyline points="582,263.4 588,261 596,256 604,251 611,245"/>
<polyline stroke-width="2.5" points="526,266.6 532,268.6 538,270"/>
<polyline stroke-width="2" points="566,265 570,264.4"/>
<polyline stroke-width="2.5" points="505.6,268.2 511,268.6"/>
<polyline stroke-width="2" points="588,270 598,270.6"/>
<polyline points="526,282 532,279 540,278 536,281 530,284 526,282"/>
<polyline stroke-width="2" points="528,278 534,277"/>
<polyline points="580,271 577,277 574,282 576,287 575,288"/>
<polyline points="547,286 556,287 564,289 572,290 576,288 578,294 580,300 576,302"/>
<polyline points="519,299 530,298.6 540,299 550,298.6 558,301 566,304 576,302"/>
<polyline points="566,304 568,308 562,311 558,315 550,317 542,318"/>
<polyline points="518,308 526,309 533,311 536,315 542,318"/>
<polyline points="500,315.4 512,315 524,315 536,315"/>
<polyline points="542,318 543,325 537,330 540,336 550,334.6 560,335 572,337 584,338 594,339 602,335 610,333"/>
<polyline points="540,336 544,343 541,349 536,354 531,358 530,363 532,367"/>
<polyline points="580,300 588,302 596,303 602,305 605,311 609,316 616,320 620,322 614,324 609,325 610,333 618,331 626,331 632,334 636,339 642,342 648,346 654,347 660,348"/>
<polyline points="500,354 508,356 516,355 524,357 530,358"/>
<polyline points="530,363 524,365 518,366"/>
<polyline points="532,367 540,365 548,366 556,367"/>
<polyline points="566,365 572,363 580,364 586,367"/>
<polyline points="570,336 578,337 586,339 594,338 601,339 605,334 611,333 620,332 628,331 634,335 637,340 644,343 646,346 654,347 662,346 668,350 676,351 682,353 685,356 681,359 682,365 678,368 670,369 664,372"/>
<polyline points="611,333 609,328 608,324 616,323 620,321"/>
<polyline points="640,379 650,376 660,373.6 670,372.4 678,371.6 676,374 670,375 666,377 670,380 666,381 664,385 662,387 656,388 654,387"/>
<polyline points="639,380 640,384 646,387 654,388 648,389 640,390 634,392 629,394 627,390 624,387 619,386 624,384 630,383 636,382 639,380"/>
<polyline stroke-width="2.5" points="628,380 638,381"/>
<polyline stroke-width="2.5" points="610,377 618,378"/>
<polyline stroke-width="2" points="612,372 613,377"/>
<polyline stroke-width="2" points="653,387.6 656,388.6"/>
<polyline points="639,380 632,380 624,379 618,378 610,377 604,379 598,382 594,386 588,389 586,394 585,400 582,404 578,408 576,412 578,416 584,419 590,420 598,420 606,419 614,416 624,414 632,415 640,414 646,417 654,420 662,421 670,422 678,421 686,420 694,418 699,415 698,410 694,405 688,402 682,400 676,397 670,395 664,392 658,389"/>
<polyline points="570,363 576,363 582,365 588,367 592,372 596,377 590,380 584,384 581,386 579,380 576,374 572,368 570,366"/>
<polyline points="581,386 588,389"/>
<polyline points="570,397 578,398 584,397 586,394"/>
<polyline points="570,414 574,413 578,412"/>
<polyline points="682,400 690,402 698,404 706,406 714,407 722,408 728,407"/>
<polyline points="699,415 706,417 714,418 718,423 716,429 722,434 726,436"/>
<polyline points="714,418 722,421 728,425"/>
<polyline points="630,194.6 636.3,195.2 642.6,195.9 648.9,196.5 655.2,198.4 661.6,200.3 667.9,201.6 674.2,203.4 680.5,204.7 685.5,206 689.3,207.2 693.1,209.8 695.6,212.9 693.1,214.8 689.3,216.1 685.5,218 680.5,219.9 674.2,221.1 667.9,221.1 661.6,220.5 655.2,219.9 648.9,219.2 642.6,218.6 636.3,217.3 630,216.1"/>
<polyline points="726.6,201.3 718.3,201.3 712.7,200.7 720.2,204.1 719,207.9 716.5,211 718.3,213.5 722.1,216.1 720.9,219.9 719.6,222.4"/>
<polyline stroke-width="2" points="712,200.5 715.8,201"/>
<polyline points="713.3,220.5 708.3,217.3 703.2,218 699.4,219.9 693.1,221.1 688.1,223 683,224.9 681.7,227.4 684.3,230.6 687.4,232.5 683,231.8 680.5,229.3"/>
<polyline stroke-width="2" points="704.5,215.4 707.6,216.1"/>
<polyline stroke-width="2.5" points="684.3,231.2 687.8,232.7"/>
<polyline stroke-width="2" points="712.7,221.1 714.6,219.9"/>
<polyline points="635,224.3 637.6,223 638.8,225.5 636.3,226.8 638.8,230.6 641.4,233.1 645.1,235 650.2,235.6 655.2,238.2 660.3,239.4 665.3,238.2 666.6,235.6 662.8,234.4 659,231.8 656.5,230 653.3,230.6 655.2,232.5 660.3,233.7"/>
<polyline points="645.1,228.6 646.7,228.6 646.7,229.8 645.1,229.8 645.1,228.6"/>
<polyline points="637.6,223 638.8,223 638.8,224.3 637.6,224.3 637.6,223"/>
<polyline points="426.9,110.6 428.8,113.8 426.2,118.1 431.2,121.2 436.2,121.9 440,123.8 447.5,123.1 453.8,125.6 456.2,128.1 461.2,130 467.5,133.1 472.5,135 478.8,137.5 483.8,135.6 485,133.1 488.8,130 493.8,128.1 497.5,125 502.5,123.8 507.5,121.2 511.2,120.6 517.5,120 520,120"/>
<polyline points="426.9,110.6 435,111.2 445,110.6 457.5,111.2 465,111.9 472.5,115 478.8,118.1 475,113.8 482.5,112.5 490,113.8 497.5,113.1 507.5,112.5 515,113.8 520,113.1"/>
<polyline stroke-width="2" points="436.2,116.2 440.6,116.9"/>
<polyline stroke-width="2" points="438.8,118.8 448.8,119.4"/>
<polyline stroke-width="2" points="455,124.4 461.2,125 457.5,126.9"/>
<polyline stroke-width="2.5" points="462.5,128.1 473.8,127.5 482.5,126.9"/>
<polyline stroke-width="2.5" points="470,134.4 477.5,135"/>
<polyline stroke-width="2" points="467.5,120 470,121.2"/>
<polyline stroke-width="2" points="475,121.2 485,121.9"/>
<polyline stroke-width="2" points="461.2,121.2 465,122.5"/>
<polyline stroke-width="2" points="427.5,119.4 432.5,120.6"/>
<polyline stroke-width="2" points="490,114.4 500,115.6"/>
<polyline stroke-width="2" points="510,117.5 520,118.1"/>
<polyline stroke-width="2" points="512.5,122.5 520,123.8"/>
<polyline stroke-width="2.5" points="430,111 457.5,110.5"/>
<polyline stroke-width="2" points="510,117.4 521.2,120.8 516.8,123"/>
<polyline stroke-width="2" points="516.8,127.5 525.8,126.4 537,127.5 551.6,127.5"/>
<polyline points="519,129.8 530.2,130.9"/>
<polyline points="487.5,111.8 510,112.9 532.5,114 546,115.1 559.5,113.5 573,111.8"/>
<polyline stroke-width="2" points="492,111.8 514.5,112.2"/>
<polyline stroke-width="2" points="564,120.3 570.8,119.8"/>
<polyline stroke-width="2" points="579.8,119 593.2,118.5"/>
<polyline stroke-width="2" points="551.6,138.3 557.2,136.5"/>
<polyline points="498.8,153.6 502.1,153.6 502.1,155.2 498.8,155.2 498.8,153.6"/>
<polyline points="520.1,121.9 532.5,124.1 546,123 559.5,116.2"/>
<polyline points="495,506 502,508 508,504 510,499 509,494 513,490 520,487.6 526,487 532,488 537,491 544,492 551,495 554,497 562,497 570,499 578,501 586,503 592,502 600,499 608,497 614,499 618,500"/>
<polyline points="551,495 553,500 552,506 551,508.4"/>
<polyline points="540,467 544,465 550,467 556,466.4 564,468 560,469.6 552,470 546,469 541,469 540,467"/>
<polyline stroke-width="2" points="554,429 558,430"/>
<polyline stroke-width="2" points="561,443 564,443.6"/>
<polyline stroke-width="2" points="564,449 568,449.6"/>
<polyline stroke-width="2" points="554,453 558,455"/>
<polyline stroke-width="2" points="564,457 566,457.6"/>
<polyline stroke-width="2" points="571,464 573,463"/>
<polyline stroke-width="2" points="569,455 575,454"/>
<polyline stroke-width="2" points="578,456 582,455"/>
<polyline points="577,461 580,460"/>
<polyline stroke-width="2" points="562,436 568,438"/>
<polyline stroke-width="2" points="564,440 570,442"/>
<polyline stroke-width="2" points="533,435 540,439"/>
<polyline stroke-width="2" points="537,440 544,443"/>
<polyline stroke-width="2" points="544,444 550,448"/>
<polyline stroke-width="2" points="532,445 539,447"/>
<polyline points="568,425 572,428 570,432 566,435 569,439 572,444 575,450 580,453 586,456 590,459"/>
<polyline points="513,432 518,436 514,440 520,444 524,450 528,453 533,456 536,459"/>
<polyline points="515,439 522,441 528,440"/>
<polyline stroke-width="2" points="82.5,441 87,440 92.5,441.5"/>
<polyline points="86,439 90,440"/>
<polyline stroke-width="2" points="95,440 99,440"/>
<polyline stroke-width="2" points="108.5,447 116,447.5"/>
<polyline stroke-width="2" points="114,454 116.5,454"/>
<polyline stroke-width="2" points="183.5,487.3 189,487.3"/>
<polyline points="382.6,340 385.1,343.8 388.9,347.6 387.7,351.4 390.2,353.9 395.2,355.1 401.6,357 405.3,358.9 403.4,362.7 400.9,367.1 400.3,370.3"/>
<polyline points="385.1,343.8 388.9,345 390.8,348.8 388.9,352"/>
<polyline points="370,347.6 375,349.5 380.1,348.8 382.6,352 387.7,351.4"/>
<polyline points="400.3,370.3 405.3,368.4 410.4,367.8 416.7,369.7 420.5,370.9 423,373.4 425.5,374.1 424.3,377.2 426.2,379.1 423,380.4 420.5,378.5 416.7,381.7 413.5,383.5 411.7,380.4 407.9,378.5 405.3,380.4 401.6,381.7 396.5,380.4 394,382.3 393.3,379.1 388.9,380.4 387,379.1 390.2,376 394,373.4 397.1,370.9 400.3,370.3"/>
<polyline stroke-width="2.5" points="387.7,379.4 389.6,380.1"/>
<polyline stroke-width="2" points="407.9,368.4 411.7,368"/>
<polyline points="394,382.3 395.2,386.7 394,390.5 397.1,394.3 400.3,396.8 398.4,400.6"/>
<polyline points="370,402.5 376.3,401.8 382.6,404.4 386.4,405.6 391.5,403.7 398.4,400.6 402.8,398.1 407.9,395.5 412.9,394.3 418,395.5 423,398.1 425.5,401.8 426.8,405.6 430.6,408.8 435.6,411.9 440.7,414.5 444.5,417"/>
<polyline points="410,411 413,408 417,407 418,412 417,418 414,422 411,420 410,415 410,411"/>
<polyline points="407,425 411,423 416,422 419,425 419,431 417,437 411,438 408,437 409,431 407,425"/>
<polyline points="428,288.5 424,289.5 420,291 417,292.5 412,293 408,294 405.5,296.5 406,300 405.5,304 407,306.5 410,308.5 408,311 410.5,314 412,317 415,319 419,321"/>
<polyline stroke-width="3" points="407,310 410,311.5"/>
<polyline stroke-width="2" points="410.5,314 412.5,317.5"/>
<polyline points="428,288.5 426,291 424,293.5 425,296 428,298 430,297.5 426,300 423.5,301.5 422,304 420,305 418.5,308 420,310.5 423,311.5 421,314 425,314.5"/>
<polyline stroke-width="2" points="407,295 411,294.5 415,296"/>
<polyline stroke-width="2" points="409,297.5 411,296.5"/>
<polyline points="420,306.5 424,305.5 428,306.5 429.5,309 427,311 423,310.5 420,309 420,306.5"/>
<polyline stroke-width="2" points="419,307.5 421,310 425,311"/>
<polyline points="432,303 435,302 439,301.5 443,300 445,302 444,305 442,308 439,310 436,309 434,306.5 432,305 432,303"/>
<polyline points="430,313 433,312 437,311.5 439,313 435,314 431,314.5 430,313"/>
<polyline stroke-width="2.5" points="428.5,317.5 430.5,318"/>
<polyline stroke-width="2.5" points="436,309.5 440,312"/>
<polyline stroke-width="2" points="424,300 426,301.5"/>
<polyline stroke-width="2.5" points="429.5,291.6 432.2,291.8"/>
<polyline stroke-width="2" points="443,300 445.5,298.5"/>
<polyline points="462.5,308.5 464.5,307.5 466.5,309 465,310 463,309.5 462.5,308.5"/>
<polyline stroke-width="3" points="449.5,312.8 453,314.8 457,318.2 461,320"/>
<polyline points="718.3,433.6 720.2,438.1 721.9,443.1 723.7,448.2 726.6,454.5"/>
</g>
<rect x="72" y="110" width="655" height="399" fill="none" stroke="#000" stroke-width="2" shape-rendering="crispEdges"/>
<line x1="73.5" y1="509" x2="73.5" y2="513" stroke="#000" stroke-width="1"/>
<text x="64.5" y="522.4" textLength="18.0" lengthAdjust="spacingAndGlyphs" class="ax">30W</text>
<line x1="160.5" y1="509" x2="160.5" y2="513" stroke="#000" stroke-width="1"/>
<text x="151.5" y="522.4" textLength="18.0" lengthAdjust="spacingAndGlyphs" class="ax">20W</text>
<line x1="247.5" y1="509" x2="247.5" y2="513" stroke="#000" stroke-width="1"/>
<text x="238.5" y="522.4" textLength="18.0" lengthAdjust="spacingAndGlyphs" class="ax">10W</text>
<line x1="334.5" y1="509" x2="334.5" y2="513" stroke="#000" stroke-width="1"/>
<text x="331.7" y="522.4" textLength="5.6" lengthAdjust="spacingAndGlyphs" class="ax">0</text>
<line x1="421.5" y1="509" x2="421.5" y2="513" stroke="#000" stroke-width="1"/>
<text x="413.1" y="522.4" textLength="16.8" lengthAdjust="spacingAndGlyphs" class="ax">10E</text>
<line x1="509.5" y1="509" x2="509.5" y2="513" stroke="#000" stroke-width="1"/>
<text x="501.1" y="522.4" textLength="16.8" lengthAdjust="spacingAndGlyphs" class="ax">20E</text>
<line x1="596.5" y1="509" x2="596.5" y2="513" stroke="#000" stroke-width="1"/>
<text x="588.1" y="522.4" textLength="16.8" lengthAdjust="spacingAndGlyphs" class="ax">30E</text>
<line x1="683.5" y1="509" x2="683.5" y2="513" stroke="#000" stroke-width="1"/>
<text x="675.1" y="522.4" textLength="16.8" lengthAdjust="spacingAndGlyphs" class="ax">40E</text>
<line x1="68" y1="509.5" x2="72" y2="509.5" stroke="#000" stroke-width="1"/>
<text x="49.2" y="513.1" textLength="17" lengthAdjust="spacingAndGlyphs" class="ax">30N</text>
<line x1="68" y1="429.5" x2="72" y2="429.5" stroke="#000" stroke-width="1"/>
<text x="49.2" y="433.1" textLength="17" lengthAdjust="spacingAndGlyphs" class="ax">40N</text>
<line x1="68" y1="349.5" x2="72" y2="349.5" stroke="#000" stroke-width="1"/>
<text x="49.2" y="353.1" textLength="17" lengthAdjust="spacingAndGlyphs" class="ax">50N</text>
<line x1="68" y1="270.5" x2="72" y2="270.5" stroke="#000" stroke-width="1"/>
<text x="49.2" y="274.1" textLength="17" lengthAdjust="spacingAndGlyphs" class="ax">60N</text>
<line x1="68" y1="190.5" x2="72" y2="190.5" stroke="#000" stroke-width="1"/>
<text x="49.2" y="194.1" textLength="17" lengthAdjust="spacingAndGlyphs" class="ax">70N</text>
<line x1="68" y1="110.5" x2="72" y2="110.5" stroke="#000" stroke-width="1"/>
<text x="49.2" y="114.1" textLength="17" lengthAdjust="spacingAndGlyphs" class="ax">80N</text>
<polygon points="176,540.7 215,535 215,546" fill="#2d00a5"/>
<rect x="215" y="535" width="41" height="11" fill="#4b3cc8"/>
<rect x="256" y="535" width="41" height="11" fill="#1464d2"/>
<rect x="297" y="535" width="41" height="11" fill="#3c96f5"/>
<rect x="338" y="535" width="40.5" height="11" fill="#78b9fa"/>
<rect x="419.5" y="535" width="41.0" height="11" fill="#ffa000"/>
<rect x="460.5" y="535" width="41.0" height="11" fill="#ff3200"/>
<rect x="501.5" y="535" width="40.5" height="11" fill="#a50000"/>
<rect x="542" y="535" width="41" height="11" fill="#c8a096"/>
<polygon points="625,540.7 583,535 583,546" fill="#785046"/>
<line x1="214.5" y1="546" x2="583.5" y2="546" stroke="#000" stroke-width="1.3"/>
<line x1="215" y1="535" x2="215" y2="546.5" stroke="#000" stroke-width="1.2"/>
<line x1="256" y1="535" x2="256" y2="546.5" stroke="#000" stroke-width="1.2"/>
<line x1="297" y1="535" x2="297" y2="546.5" stroke="#000" stroke-width="1.2"/>
<line x1="338" y1="535" x2="338" y2="546.5" stroke="#000" stroke-width="1.2"/>
<line x1="378.5" y1="535" x2="378.5" y2="546.5" stroke="#000" stroke-width="1.2"/>
<line x1="419.5" y1="535" x2="419.5" y2="546.5" stroke="#000" stroke-width="1.2"/>
<line x1="460.5" y1="535" x2="460.5" y2="546.5" stroke="#000" stroke-width="1.2"/>
<line x1="501.5" y1="535" x2="501.5" y2="546.5" stroke="#000" stroke-width="1.2"/>
<line x1="542" y1="535" x2="542" y2="546.5" stroke="#000" stroke-width="1.2"/>
<line x1="583" y1="535" x2="583" y2="546.5" stroke="#000" stroke-width="1.2"/>
<path d="M176,540.7 L215,546 M176,540.7 L215,535" stroke="#000" stroke-width="0.8" fill="none" stroke-dasharray="5 3"/>
<path d="M625,540.7 L583,546 M625,540.7 L583,535" stroke="#000" stroke-width="0.8" fill="none" stroke-dasharray="5 3"/>
<text x="209.1" y="556" textLength="13.8" lengthAdjust="spacingAndGlyphs" class="cb">−4</text>
<text x="250.1" y="556" textLength="13.8" lengthAdjust="spacingAndGlyphs" class="cb">−3</text>
<text x="291.1" y="556" textLength="13.8" lengthAdjust="spacingAndGlyphs" class="cb">−2</text>
<text x="332.1" y="556" textLength="13.8" lengthAdjust="spacingAndGlyphs" class="cb">−1</text>
<text x="368.4" y="556" textLength="22.3" lengthAdjust="spacingAndGlyphs" class="cb">−0.5</text>
<text x="413.6" y="556" textLength="13.8" lengthAdjust="spacingAndGlyphs" class="cb">0.5</text>
<text x="458.9" y="556" textLength="5.3" lengthAdjust="spacingAndGlyphs" class="cb">1</text>
<text x="499.9" y="556" textLength="5.3" lengthAdjust="spacingAndGlyphs" class="cb">2</text>
<text x="540.4" y="556" textLength="5.3" lengthAdjust="spacingAndGlyphs" class="cb">3</text>
<text x="581.4" y="556" textLength="5.3" lengthAdjust="spacingAndGlyphs" class="cb">4</text>
<defs><clipPath id="lc"><circle cx="672.5" cy="55.3" r="22.7"/></clipPath></defs>
<g clip-path="url(#lc)">
<polygon points="640,38.4 666.5,65.2 669.5,66.3 676,63.6 684.2,60.7 682,58.7 706,36.6 706,90 640,90" fill="#05f8f8"/>
<polygon points="654,43.6 668.6,59.6 679,59.6 691,42.4 700,30 645,30" fill="#1a1adc"/>
</g>
<text x="663" y="48.6" textLength="19.4" lengthAdjust="spacingAndGlyphs" style="font:bold 8px 'Liberation Sans',sans-serif" fill="#fff">NOAA</text>
<text x="258" y="81.3" textLength="46" lengthAdjust="spacing" class="thin" style="font-size:14px" fill="#fa3c3c">CFSv2</text>
<text x="316" y="81.3" textLength="60" lengthAdjust="spacing" class="thin" style="font-size:14px" fill="#fa3c3c">monthly</text>
<text x="387" y="81.3" textLength="31" lengthAdjust="spacing" class="thin" style="font-size:14px" fill="#fa3c3c">T2m</text>
<text x="430" y="81.3" textLength="78.4" lengthAdjust="spacing" class="thin" style="font-size:14px" fill="#fa3c3c">anomalies</text>
<text x="519.6" y="81.3" textLength="22" lengthAdjust="spacing" class="thin" style="font-size:14px" fill="#fa3c3c">(K)</text>
<text x="73.6" y="106.8" textLength="25.4" lengthAdjust="spacing" class="thin2" style="font-size:13px" fill="#1e3cff">May</text>
<text x="107" y="106.8" textLength="33" lengthAdjust="spacing" class="thin2" style="font-size:13px" fill="#1e3cff">2023</text>
<text x="490.5" y="106.8" textLength="28.1" lengthAdjust="spacing" class="" style="font-size:10.8px" fill="#000">Initial</text>
<text x="526.9" y="106.8" textLength="60.4" lengthAdjust="spacing" class="" style="font-size:10.8px" fill="#000">conditions:</text>
<text x="595.4" y="106.8" textLength="130.9" lengthAdjust="spacing" class="" style="font-size:10.8px" fill="#000">15Apr2023−24Apr2023</text>
<text x="617.5" y="88.8" textLength="111" lengthAdjust="spacing" class="thin2" style="font-size:13.3px" fill="#000">NWS/NCEP/CPC</text>
</svg>
</body></html>
